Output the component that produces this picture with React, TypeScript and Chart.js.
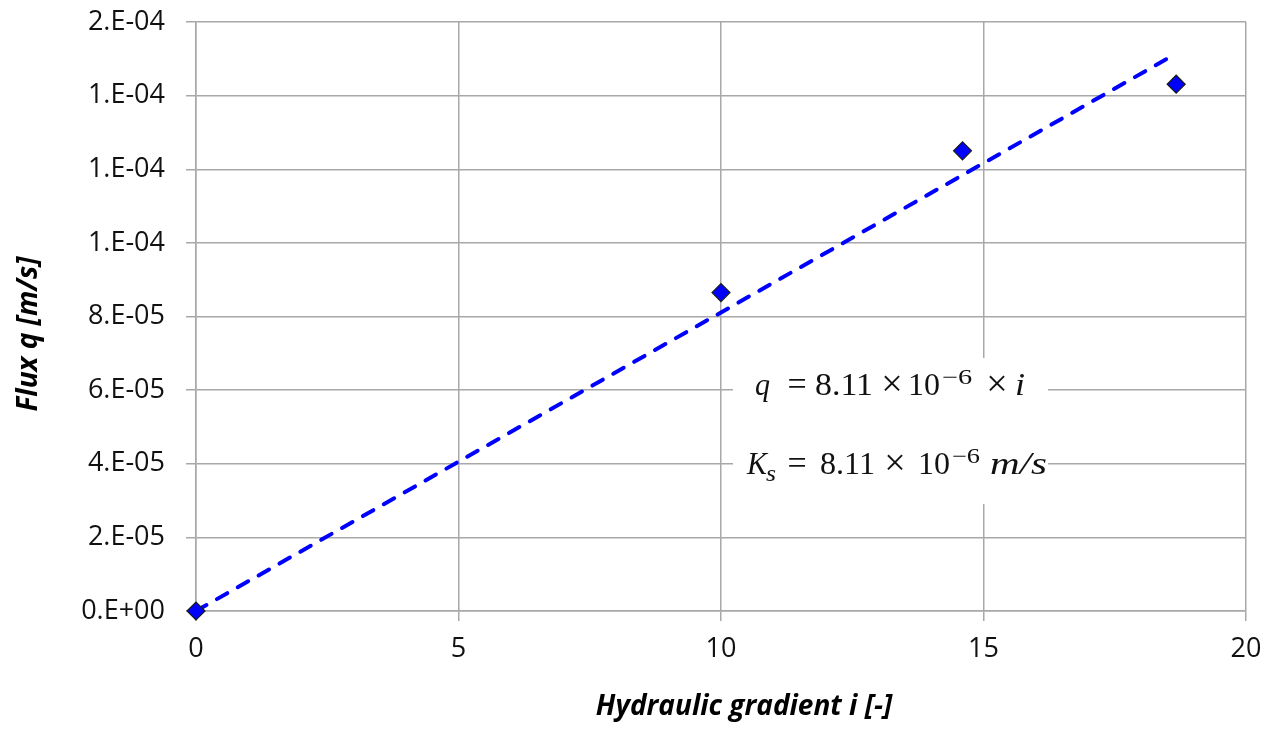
import React, { useEffect, useRef } from "react";
import { Chart, registerables } from "chart.js";

Chart.register(...registerables);

// ---- Data ----
const gradient: number[] = [0, 10, 14.6, 18.67];
const flux: number[] = [0, 8.65e-5, 1.25e-4, 1.431e-4];
const trendX: number[] = [0, 18.55];
const trendY: number[] = [0, 1.5044e-4];
const xTickValues: number[] = [0, 5, 10, 15, 20];
const yTickValues: number[] = [0, 2e-5, 4e-5, 6e-5, 8e-5, 1.0e-4, 1.2e-4, 1.4e-4, 1.6e-4];
const yTickLabels: string[] = ["0.E+00", "2.E-05", "4.E-05", "6.E-05", "8.E-05", "1.E-04", "1.E-04", "1.E-04", "2.E-04"];
const xTitle = "Hydraulic gradient i [-]";
const yTitle = "Flux q [m/s]";

const GRID = "#a8a8a8";
const SANS = '"Open Sans", "Liberation Sans", sans-serif';
const SERIF = '"Liberation Serif", "DejaVu Serif", serif';

function tok(ctx: CanvasRenderingContext2D, text: string, x0: number, x1: number, base: number, font: string) {
  ctx.font = font;
  const w = ctx.measureText(text).width;
  let sx = (x1 - x0) / w;
  if (sx < 0.8) sx = 0.8;
  if (sx > 1.35) sx = 1.35;
  ctx.save();
  ctx.translate(x0, base);
  ctx.scale(sx, 1);
  ctx.textAlign = "left";
  ctx.textBaseline = "alphabetic";
  ctx.fillText(text, 0, 0);
  ctx.restore();
}

// draw a glyph centred horizontally on cx
function ctr(ctx: CanvasRenderingContext2D, text: string, cx: number, base: number, font: string) {
  ctx.save();
  ctx.font = font;
  ctx.textAlign = "center";
  ctx.textBaseline = "alphabetic";
  ctx.fillText(text, cx, base);
  ctx.restore();
}

const annotationPlugin = {
  id: "eqAnnotation",
  beforeDatasetsDraw(chart: any) {
    const ctx: CanvasRenderingContext2D = chart.ctx;
    ctx.save();
    ctx.fillStyle = "#ffffff";
    ctx.fillRect(733, 358, 315, 146);
    ctx.restore();
  },
  afterDraw(chart: any) {
    const ctx: CanvasRenderingContext2D = chart.ctx;
    ctx.save();
    ctx.fillStyle = "#111111";
    const up = `32px ${SERIF}`;
    const it = `italic 32px ${SERIF}`;
    const sup = `21px ${SERIF}`;
    const big = `38px ${SERIF}`;
    // line 1: q = 8.11 × 10^-6 × i
    tok(ctx, "q", 755, 770, 395, it);
    ctr(ctx, "=", 797, 395, `34px ${SERIF}`);
    tok(ctx, "8.11", 815, 873, 395, up);
    ctr(ctx, "×", 892, 396, big);
    tok(ctx, "10", 908, 940, 395, up);
    tok(ctx, "−6", 942, 977, 384, sup);
    ctr(ctx, "×", 997, 396, big);
    tok(ctx, "i", 1015, 1025, 395, it);
    // line 2: K_s = 8.11 × 10^-6 m/s
    tok(ctx, "K", 747, 767, 474, it);
    tok(ctx, "s", 766, 776, 481, `italic 24px ${SERIF}`);
    ctr(ctx, "=", 797, 474, `34px ${SERIF}`);
    tok(ctx, "8.11", 820, 875, 474, up);
    ctr(ctx, "×", 895, 475, big);
    tok(ctx, "10", 918, 950, 474, up);
    tok(ctx, "−6", 952, 980, 463, sup);
    tok(ctx, "m/s", 990, 1047, 474, it);

    // axis titles
    ctx.fillStyle = "#000000";
    ctx.font = `italic bold 28px ${SANS}`;
    ctx.textAlign = "center";
    ctx.textBaseline = "middle";
    ctx.fillText(xTitle, 744, 707);
    ctx.save();
    ctx.translate(29, 334);
    ctx.rotate(-Math.PI / 2);
    ctx.fillText(yTitle, 0, 0);
    ctx.restore();
    ctx.restore();
  },
};

export default function App() {
  const ref = useRef<HTMLCanvasElement | null>(null);

  useEffect(() => {
    if (!ref.current) return;
    const chart = new Chart(ref.current, {
      type: "scatter",
      data: {
        datasets: [
          {
            type: "scatter",
            label: "Measured",
            data: gradient.map((g, i) => ({ x: g, y: flux[i] })),
            pointStyle: "rectRot",
            pointRadius: 9,
            pointHoverRadius: 9,
            backgroundColor: "#0000ff",
            borderColor: "#1a1a1a",
            borderWidth: 1.2,
            clip: false,
          } as any,
          {
            type: "line",
            label: "Trend",
            data: trendX.map((g, i) => ({ x: g, y: trendY[i] })),
            borderColor: "#0000ff",
            borderWidth: 4,
            borderDash: [12, 12],
            borderCapStyle: "round",
            pointRadius: 0,
            fill: false,
            clip: false,
          } as any,
        ],
      },
      options: {
        responsive: false,
        animation: false,
        devicePixelRatio: 1,
        layout: { padding: { left: 0, right: 32, top: 22, bottom: 0 } },
        plugins: {
          legend: { display: false },
          tooltip: { enabled: false },
          title: { display: false },
        },
        scales: {
          x: {
            type: "linear",
            min: 0,
            max: 20,
            afterBuildTicks: (s: any) => {
              s.ticks = xTickValues.map((v) => ({ value: v }));
            },
            afterFit: (s: any) => {
              s.height = 119;
              s.paddingLeft = 0;
              s.paddingRight = 0;
            },
            grid: { color: GRID, lineWidth: 1.5, tickLength: 10, drawTicks: true },
            border: { color: GRID, width: 1.5 },
            ticks: {
              color: "#111111",
              font: { family: SANS, size: 27 },
              padding: 12,
              maxRotation: 0,
              callback: (v: any) => String(v),
            },
          },
          y: {
            type: "linear",
            min: 0,
            max: 1.6e-4,
            afterBuildTicks: (s: any) => {
              s.ticks = yTickValues.map((v) => ({ value: v }));
            },
            afterFit: (s: any) => {
              s.width = 196;
              s.paddingTop = 0;
              s.paddingBottom = 0;
            },
            grid: { color: GRID, lineWidth: 1.5, tickLength: 10, drawTicks: true },
            border: { color: GRID, width: 1.5 },
            ticks: {
              color: "#111111",
              font: { family: SANS, size: 27 },
              padding: 21,
              callback: (_v: any, i: number) => yTickLabels[i],
            },
          },
        },
      },
      plugins: [annotationPlugin],
    } as any);
    return () => chart.destroy();
  }, []);

  return (
    <div style={{ position: "fixed", left: 0, top: 0, width: 1278, height: 730, background: "#fff" }}>
      <canvas ref={ref} width={1278} height={730} style={{ width: 1278, height: 730, display: "block" }} />
    </div>
  );
}
